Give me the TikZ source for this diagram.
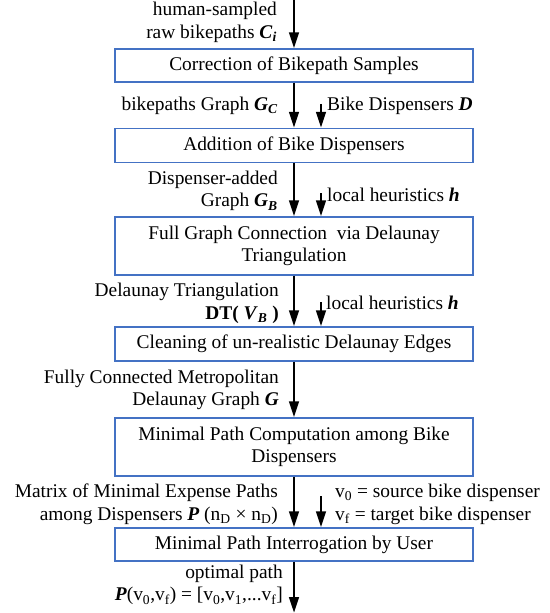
\documentclass[tikz,border=0pt]{standalone}
\usepackage{fontspec}
\setmainfont{Liberation Serif}
\usetikzlibrary{arrows.meta}
\definecolor{boxblue}{RGB}{68,114,196}
\newcommand{\bvar}[1]{\textbf{\textit{#1}}}
\begin{document}
\begin{tikzpicture}[x=1bp,y=-1bp,
		every node/.style={font=\fontsize{19.4bp}{22.5bp}\selectfont, inner sep=0pt},
		stage/.style={draw=boxblue, line width=1.4bp, minimum width=358bp, align=center},
		flow/.style={line width=2.8bp, -{Triangle[length=16bp,width=9.5bp]}},
		lbl/.style={anchor=east, align=right},
		rlbl/.style={anchor=west, align=left}]
		\useasboundingbox (0,0) rectangle (550,613);

		%boxes
		\node[stage, minimum height=33bp] (corr) at (294,65.5) {Correction of Bikepath Samples};
		\node[stage, minimum height=34bp] (add) at (294,145.5) {Addition of Bike Dispensers};
		\node[stage, minimum height=58bp] (full) at (294,246) {Full Graph Connection~ via Delaunay\\Triangulation};
		\node[stage, minimum height=34bp] (clean) at (294,344) {Cleaning of un-realistic Delaunay Edges};
		\node[stage, minimum height=58bp] (comp) at (294,447) {Minimal Path Computation among Bike\\Dispensers};
		\node[stage, minimum height=33bp] (inter) at (294,544.5) {Minimal Path Interrogation by User};

		%main flow
		\coordinate (start) at (294,0);
		\coordinate (end) at (294,613);
		\draw[flow] (start) -- (corr.north);
		\draw[flow] (corr) -- (add);
		\draw[flow] (add) -- (full);
		\draw[flow] (full) -- (clean);
		\draw[flow] (clean) -- (comp);
		\draw[flow] (comp) -- (inter);
		\draw[flow] (inter.south) -- (end);

		%side inputs
		\coordinate (disp) at (321,104);
		\coordinate (heur1) at (321,193);
		\coordinate (heur2) at (321,302);
		\coordinate (user) at (321,496);
		\draw[flow] (disp) -- (disp |- add.north);
		\draw[flow] (heur1) -- (heur1 |- full.north);
		\draw[flow] (heur2) -- (heur2 |- clean.north);
		\draw[flow] (user) -- (user |- inter.north);

		%left labels
		\node[lbl] (raw) at (277,22.5) {human-sampled\\raw bikepaths \bvar{C}\textsubscript{\bvar{i}}};
		\node[lbl] (gc) at (278,106) {bikepaths Graph \bvar{G}\textsubscript{\bvar{C}}};
		\node[lbl] (gb) at (278,191) {Dispenser-added\\Graph \bvar{G}\textsubscript{\bvar{B}}};
		\node[lbl] (dt) at (279,303.5) {Delaunay Triangulation\\\textbf{DT( \textit{V}\textsubscript{\textit{B}} )}};
		\node[lbl] (g) at (279,390) {Fully Connected Metropolitan\\Delaunay Graph \bvar{G}};
		\node[lbl] (mat) at (278,504.5) {Matrix of Minimal Expense Paths\\among Dispensers \bvar{P} (n\textsubscript{D} × n\textsubscript{D})};
		\node[lbl] (opt) at (283,585) {optimal path\\\bvar{P}(v\textsubscript{0},v\textsubscript{f}) = [v\textsubscript{0},v\textsubscript{1},...v\textsubscript{f}]};

		%right labels
		\node[rlbl] (d) at (327,106) {Bike Dispensers \bvar{D}};
		\node[rlbl] (h1) at (327,195) {local heuristics \bvar{h}};
		\node[rlbl] (h2) at (326,303) {local heuristics \bvar{h}};
		\node[rlbl] (v) at (335,504.5) {v\textsubscript{0} = source bike dispenser\\v\textsubscript{f} = target bike dispenser};
	\end{tikzpicture}
\end{document}
